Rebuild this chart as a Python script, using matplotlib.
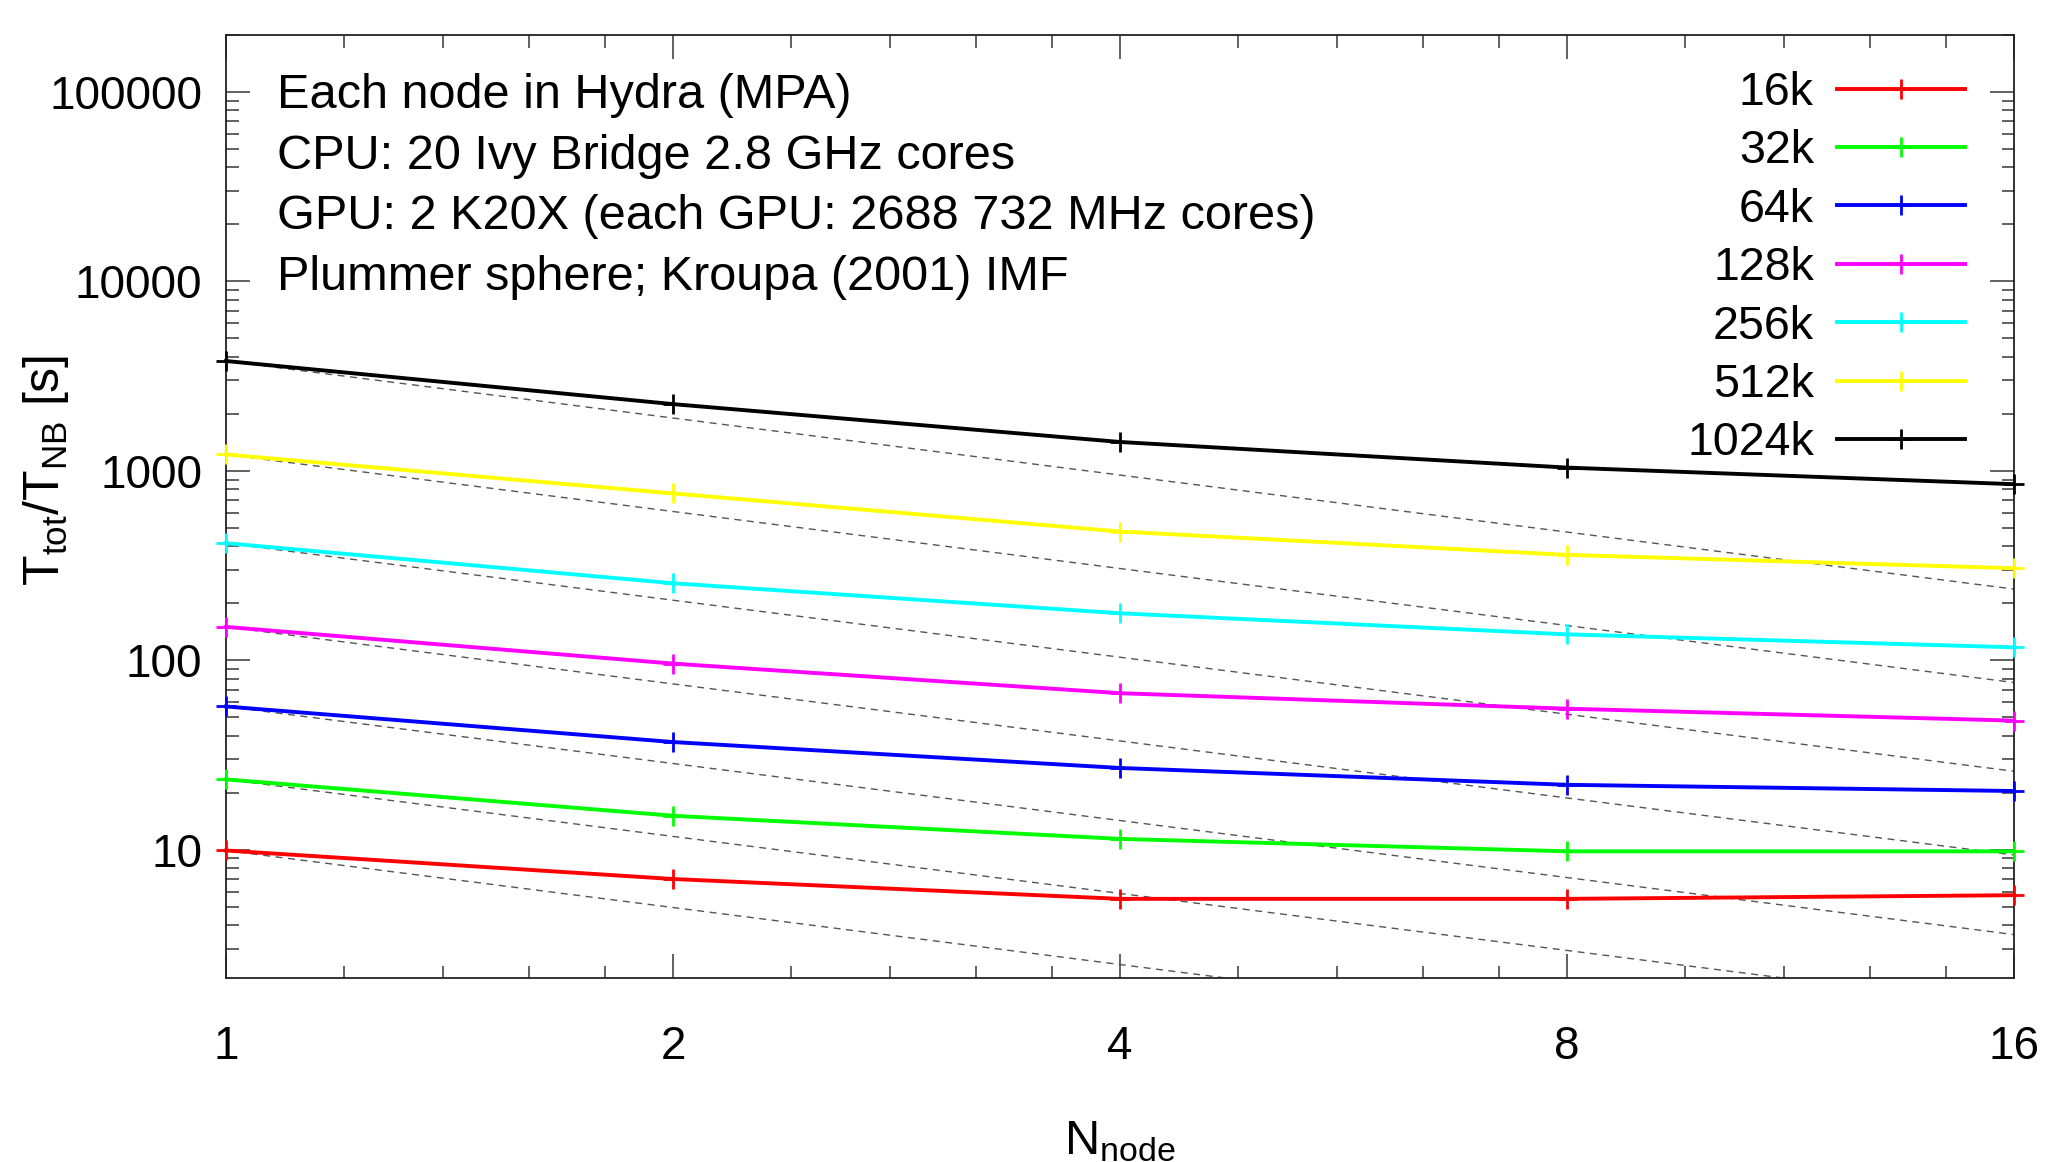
import numpy as np
import matplotlib
matplotlib.use('Agg')
import matplotlib.pyplot as plt
from matplotlib.ticker import FixedLocator, FixedFormatter, LogLocator, NullFormatter

plt.rcParams['font.family'] = ['Liberation Sans', 'DejaVu Sans']
plt.rcParams['mathtext.fontset'] = 'custom'
plt.rcParams['mathtext.rm'] = 'Liberation Sans'
plt.rcParams['mathtext.it'] = 'Liberation Sans'

# number of nodes
nodes = [1, 2, 4, 8, 16]

# T_tot / T_NB per particle number
labels = ['16k', '32k', '64k', '128k', '256k', '512k', '1024k']
t16k = [9.9, 7.0, 5.5, 5.5, 5.75]
t32k = [23.5, 15.1, 11.4, 9.8, 9.8]
t64k = [57, 37, 27, 22, 20.4]
t128k = [150, 96, 67, 55.5, 48]
t256k = [415, 255, 177, 137, 117]
t512k = [1220, 760, 478, 360, 306]
t1024k = [3800, 2250, 1420, 1040, 850]
series = [t16k, t32k, t64k, t128k, t256k, t512k, t1024k]
colors = ['#ff0000', '#00ff00', '#0000ff', '#ff00ff', '#00ffff', '#ffff00', '#000000']

info = ['Each node in Hydra (MPA)',
        'CPU: 20 Ivy Bridge 2.8 GHz cores',
        'GPU: 2 K20X (each GPU: 2688 732 MHz cores)',
        'Plummer sphere; Kroupa (2001) IMF']

fs = 33
fs_text = 35

fig = plt.figure(figsize=(20.51, 11.62), dpi=100)
ax = fig.add_axes([0.1102, 0.1583, 0.982 - 0.1102, 0.9699 - 0.1583])

x = np.array(nodes, dtype=float)
# ideal scaling lines ~ 1/N from the single-node value
for s in series:
    ax.plot(x, s[0] / x, color='#555555', lw=1.0, dashes=(5, 4), zorder=1)

for s, c, lab in zip(series, colors, labels):
    ax.plot(x, s, color=c, lw=2.8, marker='+', ms=15, mew=2.0, label=lab,
            zorder=3, clip_on=False)

ax.set_xscale('log', base=2)
ax.set_yscale('log')
ax.set_xlim(1, 16)
ax.set_ylim(2.1, 2e5)

ax.xaxis.set_major_locator(FixedLocator(nodes))
ax.xaxis.set_major_formatter(FixedFormatter([str(n) for n in nodes]))
ax.xaxis.set_minor_locator(FixedLocator([b * m for b in (1, 2, 4, 8) for m in (1.2, 1.4, 1.6, 1.8)]))
ax.xaxis.set_minor_formatter(NullFormatter())

yt = [10, 100, 1000, 10000, 100000]
ax.yaxis.set_major_locator(FixedLocator(yt))
ax.yaxis.set_major_formatter(FixedFormatter([str(v) for v in yt]))
ax.yaxis.set_minor_locator(LogLocator(base=10, subs=np.arange(2, 10)))
ax.yaxis.set_minor_formatter(NullFormatter())

ax.tick_params(which='both', direction='in', top=True, right=True, color='#555555',
               width=1.3, labelsize=fs)
ax.tick_params(which='major', length=17)
ax.tick_params(which='minor', length=9)
ax.tick_params(axis='x', pad=34)
ax.tick_params(axis='y', pad=17)
for sp in ax.spines.values():
    sp.set_linewidth(1.3)
    sp.set_color('#222222')

ax.set_xlabel(r'N$_{\rm node}$', fontsize=fs_text, labelpad=36)
ax.set_ylabel(r'T$_{\rm tot}$/T$_{\rm NB}$ [s]', fontsize=36, va='center')
ax.yaxis.set_label_coords(-0.1007, 0.538)

for i, line in enumerate(info):
    ax.text(0.0285, 0.936 - i * 0.0645, line, transform=ax.transAxes,
            fontsize=fs_text, va='center', ha='left')

ax.legend(loc='upper right', bbox_to_anchor=(0.9726, 0.962), frameon=False,
          markerfirst=False, fontsize=33.5, handlelength=2.75, handletextpad=0.5,
          labelspacing=0.31, borderpad=0, borderaxespad=0)

fig.savefig('out.png', dpi=100)
